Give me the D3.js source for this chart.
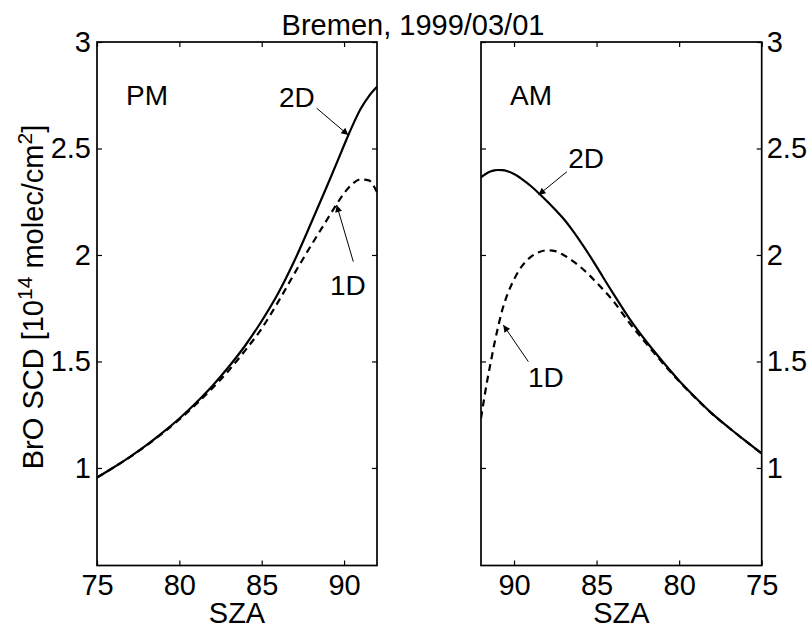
<!DOCTYPE html>
<html>
<head>
<meta charset="utf-8">
<script src="https://cdn.jsdelivr.net/npm/d3@7"></script>
<style>
body{margin:0;background:#fff;}
text{font-family:"Liberation Sans",Arial,Helvetica,sans-serif;font-size:29px;fill:#000;}
</style>
</head>
<body>
<div id="chart"></div>
<script>
var title="Bremen, 1999/03/01";
var yLabel=["BrO SCD [10","14"," molec/cm","2","]"];
var xLabel="SZA";
var yTicks=[1,1.5,2,2.5,3];
var xTicks=[75,80,85,90];

// PM panel (SZA increasing)
var pmSza=[75,76,77,78,79,80,81,82,83,84,85,86,87,88,89,89.5,90,90.5,91,91.5,92];
var pm2D=[0.955,1.002,1.052,1.107,1.167,1.232,1.305,1.385,1.475,1.575,1.69,1.82,1.975,2.15,2.33,2.422,2.515,2.605,2.685,2.745,2.79];
var pm1D=[0.955,1.002,1.051,1.105,1.164,1.228,1.298,1.374,1.458,1.552,1.655,1.78,1.915,2.045,2.17,2.232,2.29,2.333,2.355,2.35,2.295];

// AM panel (SZA decreasing, left to right)
var amSza=[92,91.8,91.6,91.4,91.2,91,90.7,90.4,90,89.5,89,88.5,88,87.5,87,86.5,86,85.5,85,84,83,82,81,80,79,78,77,76,75];
var am2D=[2.365,2.376,2.386,2.393,2.397,2.399,2.398,2.393,2.38,2.355,2.325,2.29,2.252,2.212,2.17,2.12,2.065,2.007,1.945,1.82,1.70,1.595,1.50,1.41,1.33,1.255,1.19,1.128,1.068];
var am1D=[1.233,1.33,1.42,1.50,1.58,1.65,1.745,1.815,1.885,1.95,1.99,2.013,2.022,2.018,2.0,1.975,1.945,1.91,1.87,1.785,1.68,1.585,1.493,1.407,1.328,1.254,1.19,1.128,1.068];

// labels and arrows, in data units
var notes=[
  {p:0,t:"PM",x:76.76,y:2.704},
  {p:0,t:"2D",x:86.05,y:2.695},
  {p:0,t:"1D",x:89.15,y:1.812},
  {p:1,t:"AM",x:90.24,y:2.704},
  {p:1,t:"2D",x:86.72,y:2.408},
  {p:1,t:"1D",x:89.15,y:1.380}
];
var arrows=[
  {p:0,x1:88.34,y1:2.689,x2:90.26,y2:2.563},
  {p:0,x1:90.56,y1:1.969,x2:89.55,y2:2.235},
  {p:1,x1:86.8,y1:2.391,x2:88.52,y2:2.282},
  {p:1,x1:89.13,y1:1.499,x2:90.65,y2:1.671}
];

var W=808,H=627;
var yTop=42,yBot=565.5;
var panels=[
  {l:97,r:377,dom:[75,92],sza:pmSza,s2:pm2D,s1:pm1D,side:"left"},
  {l:481,r:761.7,dom:[92,75],sza:amSza,s2:am2D,s1:am1D,side:"right"}
];

var svg=d3.select("#chart").append("svg").attr("width",W).attr("height",H);
var y=d3.scaleLinear().domain([0.542,3]).range([yBot,yTop]);

var defs=svg.append("defs");
defs.append("marker")
  .attr("id","head").attr("viewBox","0 0 10 10").attr("refX",10).attr("refY",5)
  .attr("markerWidth",9).attr("markerHeight",7).attr("markerUnits","userSpaceOnUse")
  .attr("orient","auto")
  .append("path").attr("d","M0,0L10,5L0,10z").attr("fill","#000");

panels.forEach(function(pn,k){
  var x=d3.scaleLinear().domain(pn.dom).range([pn.l,pn.r]);
  var g=svg.append("g");
  var cid="clip"+k;
  defs.append("clipPath").attr("id",cid)
    .append("rect").attr("x",pn.l).attr("y",yTop).attr("width",pn.r-pn.l).attr("height",yBot-yTop);

  var line=d3.line().x(function(d){return x(d[0]);}).y(function(d){return y(d[1]);}).curve(d3.curveMonotoneX);
  g.append("path").datum(d3.zip(pn.sza,pn.s2)).attr("clip-path","url(#"+cid+")")
    .attr("d",line).attr("fill","none").attr("stroke","#000").attr("stroke-width",2.2);
  g.append("path").datum(d3.zip(pn.sza,pn.s1)).attr("clip-path","url(#"+cid+")")
    .attr("d",line).attr("fill","none").attr("stroke","#000").attr("stroke-width",2.2)
    .attr("stroke-dasharray","7,5");

  // axes, ticks inward
  var ab=g.append("g").attr("transform","translate(0,"+yBot+")")
    .call(d3.axisBottom(x).tickValues(xTicks).tickSizeInner(-5).tickSizeOuter(0).tickPadding(9));
  var at=g.append("g").attr("transform","translate(0,"+yTop+")")
    .call(d3.axisTop(x).tickValues(xTicks).tickSizeInner(-5).tickSizeOuter(0).tickFormat(""));
  var al=g.append("g").attr("transform","translate("+pn.l+",0)")
    .call(d3.axisLeft(y).tickValues(yTicks).tickSizeInner(-5).tickSizeOuter(0).tickPadding(6)
      .tickFormat(pn.side=="left"?d3.format("~g"):""));
  var ar=g.append("g").attr("transform","translate("+pn.r+",0)")
    .call(d3.axisRight(y).tickValues(yTicks).tickSizeInner(-5).tickSizeOuter(0).tickPadding(5)
      .tickFormat(pn.side=="right"?d3.format("~g"):""));
  [ab,at,al,ar].forEach(function(a){
    a.attr("font-size",null).attr("font-family",null);
    a.select(".domain").remove();
    a.selectAll("line").attr("stroke","#000").attr("stroke-width",1.2);
    a.selectAll("text").attr("fill","#000");
  });
  g.append("rect").attr("x",pn.l).attr("y",yTop).attr("width",pn.r-pn.l).attr("height",yBot-yTop)
    .attr("fill","none").attr("stroke","#000").attr("stroke-width",1.7);

  g.append("text").attr("x",(pn.l+pn.r)/2).attr("y",623).attr("text-anchor","middle").text(xLabel);

  notes.filter(function(n){return n.p==k;}).forEach(function(n){
    g.append("text").attr("x",x(n.x)).attr("y",y(n.y)).style("font-size","28px").text(n.t);
  });
  arrows.filter(function(a){return a.p==k;}).forEach(function(a){
    g.append("line").attr("x1",x(a.x1)).attr("y1",y(a.y1)).attr("x2",x(a.x2)).attr("y2",y(a.y2))
      .attr("stroke","#000").attr("stroke-width",1).attr("marker-end","url(#head)");
  });
});

svg.append("text").attr("x",413).attr("y",35).attr("text-anchor","middle").text(title);

var yl=svg.append("text").attr("transform","translate(43,297) rotate(-90)").attr("text-anchor","middle");
yl.append("tspan").text(yLabel[0]);
yl.append("tspan").attr("dy",-11).style("font-size","21px").text(yLabel[1]);
yl.append("tspan").attr("dy",11).text(yLabel[2]);
yl.append("tspan").attr("dy",-11).style("font-size","21px").text(yLabel[3]);
yl.append("tspan").attr("dy",11).text(yLabel[4]);
</script>
</body>
</html>
